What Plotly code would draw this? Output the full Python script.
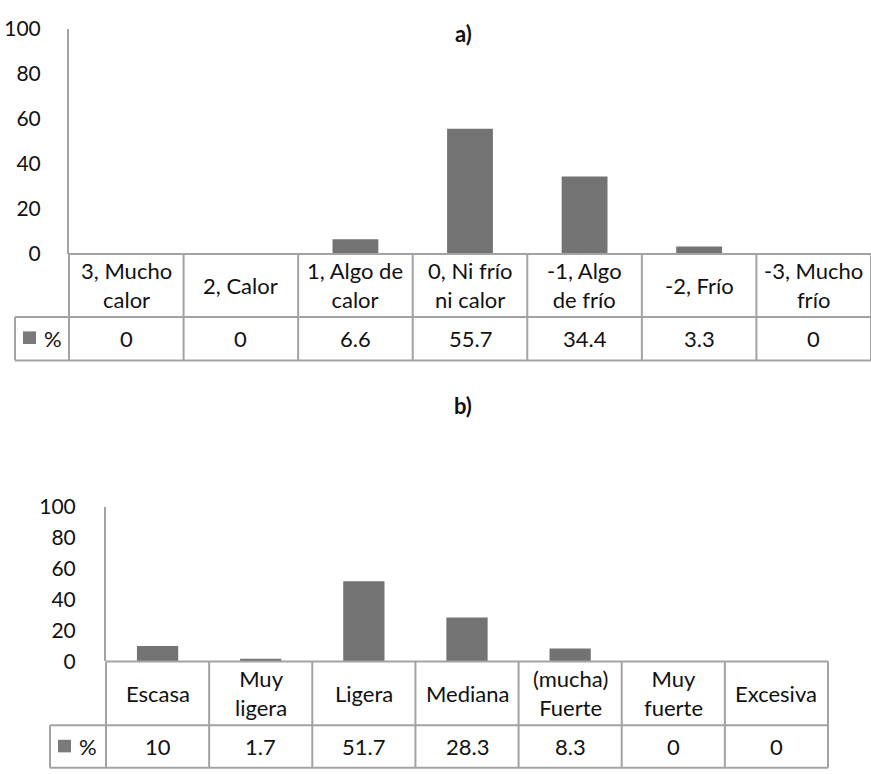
import plotly.graph_objects as go

# --- data ---------------------------------------------------------------
cats_a = ["3, Mucho calor", "2, Calor", "1, Algo de calor", "0, Ni frío ni calor",
          "-1, Algo de frío", "-2, Frío", "-3, Mucho frío"]
head_a = ["3, Mucho<br>calor", "2, Calor", "1, Algo de<br>calor", "0, Ni frío<br>ni calor",
          "-1, Algo<br>de frío", "-2, Frío", "-3, Mucho<br>frío"]
vals_a = [0, 0, 6.6, 55.7, 34.4, 3.3, 0]

cats_b = ["Escasa", "Muy ligera", "Ligera", "Mediana", "(mucha) Fuerte", "Muy fuerte", "Excesiva"]
head_b = ["Escasa", "Muy<br>ligera", "Ligera", "Mediana", "(mucha)<br>Fuerte", "Muy<br>fuerte", "Excesiva"]
vals_b = [10, 1.7, 51.7, 28.3, 8.3, 0, 0]

series_name = "%"
y_ticks = [0, 20, 40, 60, 80, 100]

# --- styling ------------------------------------------------------------
W, H = 871, 774
BAR = "#737373"
LINE = "#a3a3a3"
FONT = "Lato"
FS = 22          # table text
FS_TICK = 21     # axis tick labels
TXT = "#111111"


def px_x(v):
    return v / W


def px_y(v):
    return 1 - v / H


panels = [
    # x-left, x-right, y of zero, y of 100, header bottom, row bottom, legend-left, title y
    dict(cats=cats_a, head=head_a, vals=vals_a, xl=69, xr=871, y0=248, y100=15.5,
         hb=313, rb=358, ll=15, title="a)", ty=20, ax="", standoff=22),
    dict(cats=cats_b, head=head_b, vals=vals_b, xl=106, xr=828, y0=669, y100=509,
         hb=735, rb=779, ll=50, title="b)", ty=405, ax="2", standoff=24),
]

fig = go.Figure()
shapes, annos = [], []
layout = {}


def label(text, xref, x, y, size=FS, **kw):
    return dict(text=text, xref=xref, yref="paper", x=x, y=y, showarrow=False,
                xanchor="center", yanchor="middle", align="center",
                font=dict(family=FONT, size=size, color=TXT), **kw)


for p in panels:
    xa = "x" + p["ax"]
    ya = "y" + p["ax"]
    fig.add_trace(go.Bar(x=p["cats"], y=p["vals"], marker_color=BAR,
                         marker_line_width=0, xaxis=xa, yaxis=ya,
                         showlegend=False, hoverinfo="x+y"))
    n = len(p["cats"])
    layout["xaxis" + p["ax"]] = dict(
        domain=[px_x(p["xl"]), px_x(p["xr"])], type="category",
        categoryorder="array", categoryarray=p["cats"],
        showticklabels=False, showline=False, showgrid=False, zeroline=False,
        anchor=ya, range=[-0.5, n - 0.5], fixedrange=True)
    layout["yaxis" + p["ax"]] = dict(
        domain=[px_y(p["y0"]), px_y(p["y100"])], range=[0, 100],
        tickvals=y_ticks, showline=True, linecolor=LINE, linewidth=2,
        showgrid=False, zeroline=False, ticks="", anchor=xa,
        ticklabelstandoff=p["standoff"],
        tickfont=dict(family=FONT, size=FS_TICK, color=TXT), fixedrange=True)

    xd = xa + " domain"
    line = dict(color=LINE, width=2)
    # table horizontal rules
    shapes.append(dict(type="line", xref=xd, yref="paper", x0=0, x1=1,
                       y0=px_y(p["y0"]), y1=px_y(p["y0"]), line=line))
    shapes.append(dict(type="line", xref="paper", yref="paper",
                       x0=px_x(p["ll"]), x1=px_x(p["xr"]),
                       y0=px_y(p["hb"]), y1=px_y(p["hb"]), line=line))
    shapes.append(dict(type="line", xref="paper", yref="paper",
                       x0=px_x(p["ll"]), x1=px_x(p["xr"]),
                       y0=px_y(p["rb"]), y1=px_y(p["rb"]), line=line))
    # table vertical rules at category boundaries
    for i in range(n + 1):
        shapes.append(dict(type="line", xref=xd, yref="paper", x0=i / n, x1=i / n,
                           y0=px_y(p["y0"]), y1=px_y(p["rb"]), line=line))
    # legend cell
    shapes.append(dict(type="line", xref="paper", yref="paper",
                       x0=px_x(p["ll"]), x1=px_x(p["ll"]),
                       y0=px_y(p["hb"]), y1=px_y(p["rb"]), line=line))
    mid_row = p["hb"] + 22
    shapes.append(dict(type="rect", xref="paper", yref="paper",
                       x0=px_x(p["ll"] + 8), x1=px_x(p["ll"] + 21),
                       y0=px_y(mid_row + 6), y1=px_y(mid_row - 7),
                       fillcolor="#7a7a7a", line=dict(width=0)))
    annos.append(label(series_name, "paper", px_x(p["ll"] + 38), px_y(mid_row)))

    # header row and value row
    mid_head = (p["y0"] + p["hb"]) / 2
    for c, h, v in zip(p["cats"], p["head"], p["vals"]):
        annos.append(label(h, xa, c, px_y(mid_head)))
        annos.append(label(f"{v:g}", xa, c, px_y(mid_row)))
    # panel title
    annos.append(label(f"<b>{p['title']}</b>", "paper", px_x(463), px_y(p["ty"])))

fig.update_layout(
    width=W, height=H, autosize=False,
    margin=dict(l=0, r=0, t=0, b=0),
    paper_bgcolor="white", plot_bgcolor="white",
    bargap=0.6, shapes=shapes, annotations=annos,
    **layout,
)

fig.write_html("out.html")
